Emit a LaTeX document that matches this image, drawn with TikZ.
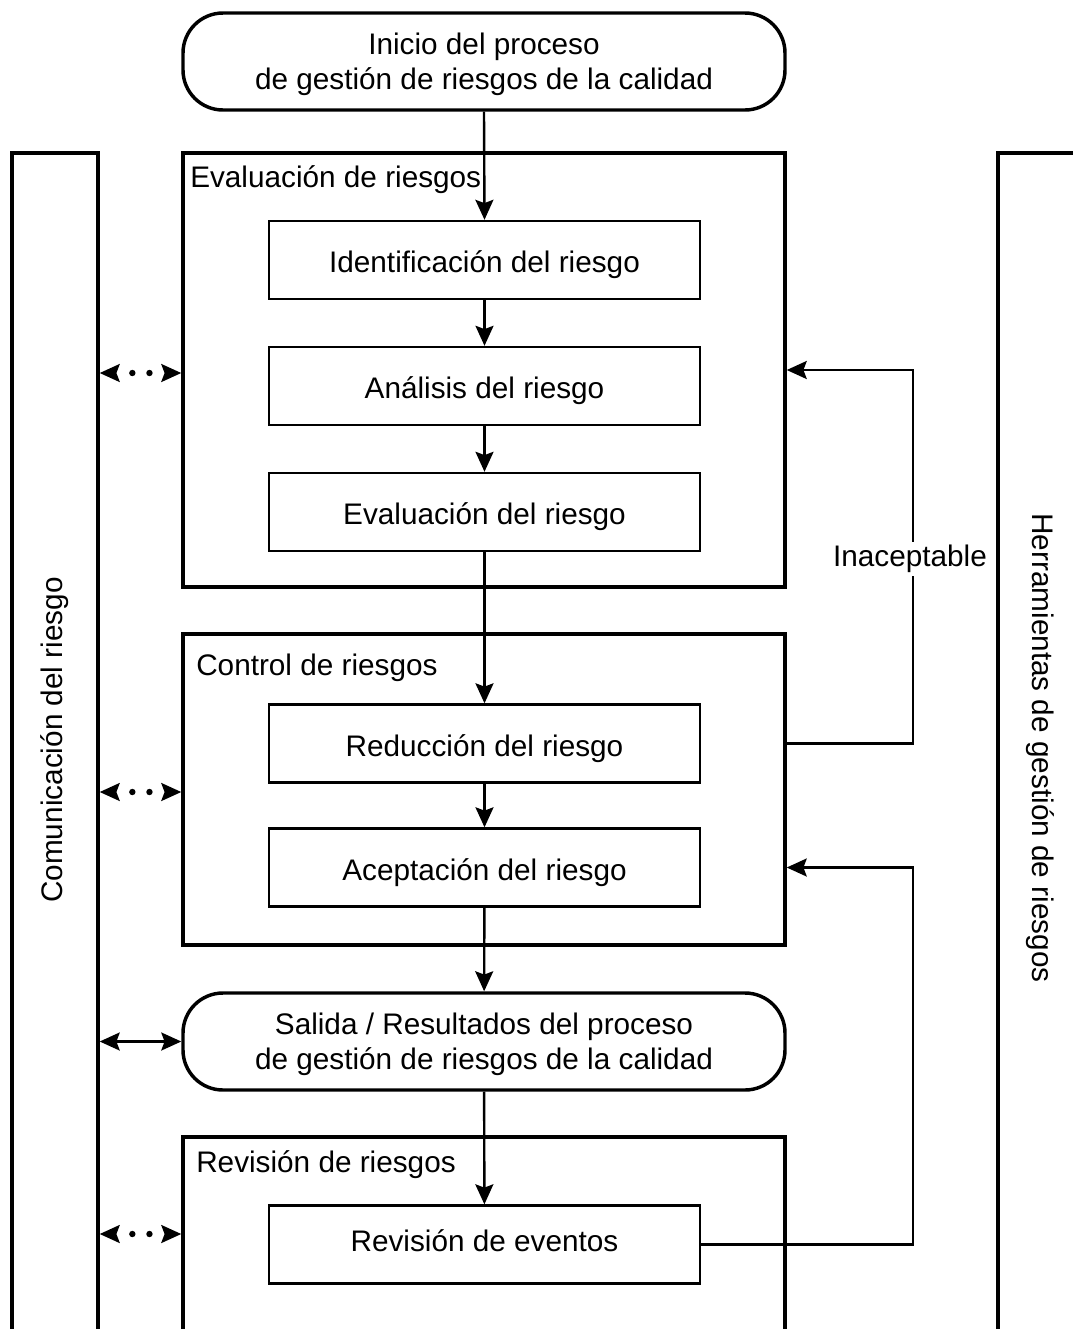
\documentclass[tikz,border=0pt]{standalone}
\usepackage{fontspec}
\setmainfont{Liberation Sans}
\usetikzlibrary{arrows.meta,decorations.markings}
\begin{document}
\begin{tikzpicture}[x=0.75pt,y=-0.75pt,
  font=\fontsize{22.3}{26}\selectfont,
  outerbox/.style={draw,line width=2.6pt,minimum width=451.5pt,inner sep=0pt},
  innerbox/.style={draw,line width=1.8pt,minimum width=323.25pt,minimum height=58.5pt,inner sep=0pt,text height=20.8pt,text depth=2pt},
  term/.style={draw,line width=2.6pt,rounded corners=30pt,minimum width=451.5pt,minimum height=72.75pt,align=center,inner sep=0pt},
  column/.style={draw,line width=2.6pt,inner sep=0pt},
  boxlabel/.style={anchor=west,inner sep=0pt},
  tip/.tip={Stealth[length=15pt,width=13.5pt,inset=2.5pt]},
  flow/.style={line width=1.8pt,-tip},
  both/.style={line width=1.8pt,tip-tip},
  dotboth/.style={decorate,decoration={markings,
     mark=at position 0.4 with {\fill (0,0) circle (2.4pt);},
     mark=at position 0.61 with {\fill (0,0) circle (2.4pt);},
     mark=at position 0 with {\arrowreversed[line width=1.8pt]{tip}},
     mark=at position 1 with {\arrow[line width=1.8pt]{tip}}}}
]
\clip (0,0) rectangle (1073,1329);
\useasboundingbox (0,0) rectangle (1073,1329);
\fill[white] (0,0) rectangle (1073,1329);

% side columns
\node[column,minimum width=64.5pt,minimum height=894pt] (comm) at (55,749) {};
\node[rotate=90] (commtext) at (55,740) {Comunicación del riesgo};
\node[column,minimum width=69pt,minimum height=894pt] (tools) at (1044,749) {};
\node[rotate=-90] (toolstext) at (1040,748) {Herramientas de gestión de riesgos};

% outer boxes
\node[outerbox,minimum height=325.5pt] (evalbox) at (484,370) {};
\node[boxlabel] (evallabel) at (190,180) {Evaluación de riesgos};
\node[outerbox,minimum height=233.25pt] (control) at (484,789.5) {};
\node[boxlabel] (controllabel) at (196,668) {Control de riesgos};
\node[outerbox,minimum height=156pt] (revbox) at (484,1241) {};
\node[boxlabel] (revlabel) at (196,1165) {Revisión de riesgos};

% terminals
\node[term] (inicio) at (484,61.5) {\rule{0pt}{20.5pt}Inicio del proceso\\de gestión de riesgos de la calidad};
\node[term] (salida) at (484,1041.5) {\rule{0pt}{20.5pt}Salida / Resultados del proceso\\de gestión de riesgos de la calidad};

% inner boxes
\node[innerbox] (ident) at (484.5,260) {Identificación del riesgo};
\node[innerbox] (ana) at (484.5,386) {Análisis del riesgo};
\node[innerbox] (evr) at (484.5,512) {Evaluación del riesgo};
\node[innerbox] (red) at (484.5,743.5) {Reducción del riesgo};
\node[innerbox] (acep) at (484.5,867.5) {Aceptación del riesgo};
\node[innerbox,text height=11pt,text depth=1.2pt] (eventos) at (484.5,1244.5) {Revisión de eventos};

% main flow
\draw[flow] (inicio.south) -- (ident.north);
\draw[flow] (ident) -- (ana);
\draw[flow] (ana) -- (evr);
\draw[flow] (evr) -- (red);
\draw[flow] (red) -- (acep);
\draw[flow] (acep) -- (salida);
\draw[flow] (salida) -- (eventos);

% feedback loops
\coordinate (fb) at (913,0);
\draw[flow] (control.east |- red) -| (fb |- evalbox.east) -- (evalbox.east);
\node[fill=white,inner sep=2pt] (inac) at (910,559) {Inaceptable};
\draw[flow] (eventos.east) -| (fb |- acep) -- (control.east |- acep);

% communication arrows
\coordinate (yev) at (0,373);
\coordinate (yco) at (0,792);
\coordinate (yrv) at (0,1234);
\path[dotboth] (comm.east |- yev) -- (evalbox.west |- yev);
\path[dotboth] (comm.east |- yco) -- (control.west |- yco);
\draw[both] (comm.east |- salida.west) -- (salida.west);
\path[dotboth] (comm.east |- yrv) -- (revbox.west |- yrv);
\end{tikzpicture}
\end{document}
